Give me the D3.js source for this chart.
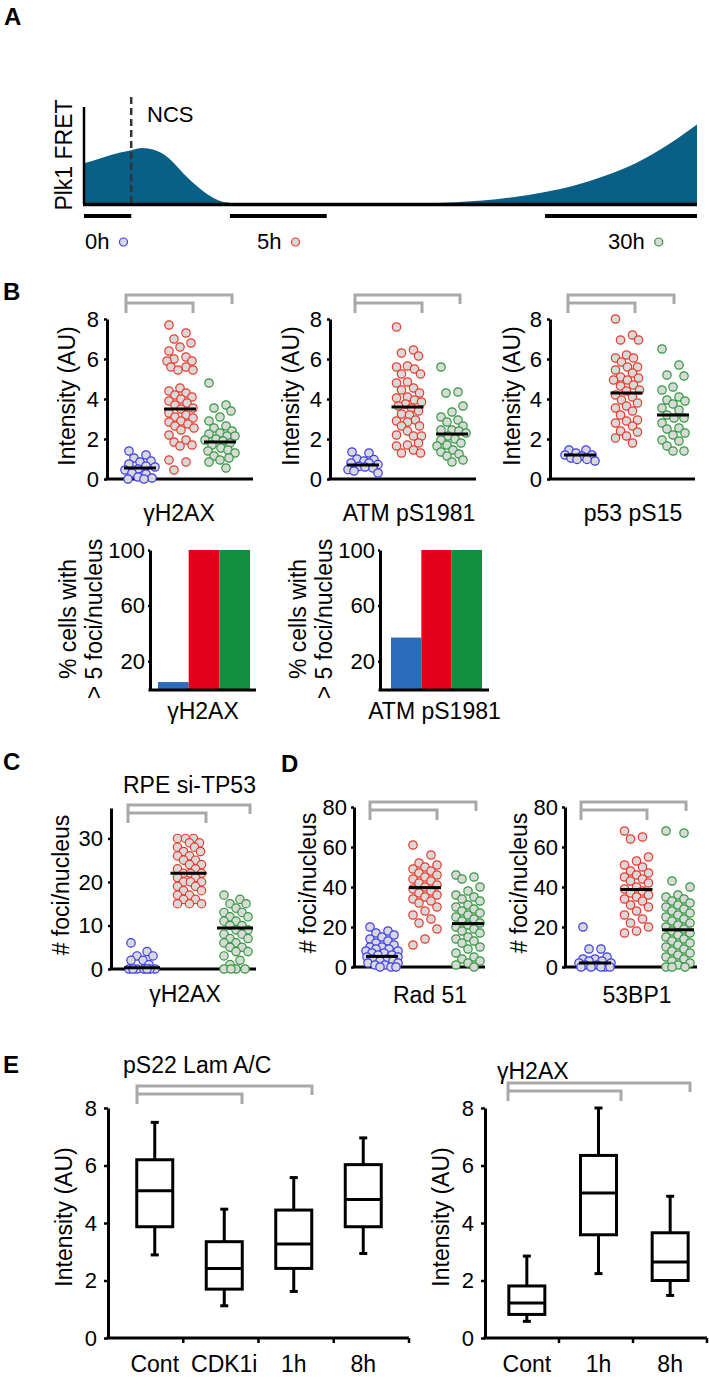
<!DOCTYPE html>
<html><head><meta charset="utf-8">
<script src="https://cdn.jsdelivr.net/npm/d3@7"></script>
<style>
body{margin:0;background:#fff}
svg text{font-family:"Liberation Sans",Arial,Helvetica,sans-serif;fill:#000}
</style></head><body>
<svg id="fig" width="709" height="1377"></svg>
<script>
// ================= DATA =================
// Panel A: Plk1 FRET trace (x: relative time 0-100, y: relative FRET 0-100)
const fretTime  = [0,2.6,5.9,7.7,9.5,11.4,13.9,16.3,18.8,21.2,24,30,40,50,55,60,65,70,75,80,85,90,95,100];
const fretLevel = [42,47,53,55.5,57.7,56,47,31,16.5,6,1,0,0,0,0.5,1.5,3.5,7,12,19,29,42,60,82];
const ncsTime = 7.7;
const windowLabels = ["0h","5h","30h"];
const windowStart = [0,23.8,75.2];
const windowEnd   = [7.7,39.6,100];

const groupNames = ["0h","5h","30h"];

// Panel B scatter: intensity (AU)
const gH2AX_0h  = [1.4,1.2,1.05,0.9,0.85,0.75,0.65,0.6,0.5,0.45,0.3,0.25,0.1,0.05,0.0,0.0];
const gH2AX_5h  = [7.7,7.3,7.0,6.8,6.6,6.4,6.1,6.0,5.9,5.9,5.6,5.6,5.45,5.45,4.55,4.4,4.3,4.2,4.1,4.0,3.9,3.8,3.7,3.55,3.5,3.3,3.2,3.1,3.05,2.9,2.85,2.75,2.65,2.55,2.45,2.2,1.95,1.85,1.7,1.65,0.95,0.85,0.45];
const gH2AX_30h = [4.8,3.7,3.55,3.4,3.1,2.9,2.65,2.55,2.4,2.3,2.25,2.15,2.15,2.0,1.95,1.9,1.8,1.7,1.55,1.45,1.4,1.3,1.15,1.05,0.95,0.85,0.55];
const gH2AX_lines = [0.55,3.5,1.85];

const atm_0h  = [1.35,1.3,1.0,0.97,0.9,0.8,0.8,0.72,0.63,0.6,0.55,0.47,0.4,0.3];
const atm_5h  = [7.6,6.45,6.3,6.15,5.65,5.6,5.5,5.25,5.25,4.85,4.8,4.55,4.45,4.3,4.1,4.05,3.95,3.85,3.75,3.65,3.55,3.4,3.25,3.2,2.95,2.9,2.85,2.65,2.65,2.4,2.2,2.15,2.15,1.8,1.7,1.65,1.45,1.3,1.3];
const atm_30h = [5.6,4.35,4.3,3.65,3.35,3.1,2.95,2.85,2.65,2.45,2.45,2.4,2.3,2.15,2.0,1.95,1.8,1.7,1.65,1.45,1.35,1.25,1.15,0.95,0.85];
const atm_lines = [0.7,3.6,2.25];

const p53_0h  = [1.45,1.45,1.3,1.2,1.2,1.15,1.05,0.98,0.9,0.98];
const p53_5h  = [8.0,7.2,6.95,6.95,6.2,6.05,6.05,5.85,5.6,5.6,5.45,5.3,5.1,5.05,4.95,4.95,4.7,4.65,4.45,4.4,4.2,4.1,3.95,3.8,3.65,3.55,3.4,3.2,2.95,2.9,2.8,2.65,2.4,2.35,2.15,2.05,1.8];
const p53_30h = [6.5,5.7,5.2,5.15,4.6,4.45,4.1,3.95,3.9,3.75,3.55,3.45,3.2,3.05,3.05,2.8,2.55,2.5,2.3,2.2,1.95,1.9,1.65,1.4,1.4];
const p53_lines = [1.2,4.3,3.2];

const intensityTicks = [0,2,4,6,8];

// Panel B bars: % cells with > 5 foci/nucleus
const fociPctH2AX = [5,100,100];
const fociPctATM  = [37,100,100];
const pctTicks = [20,60,100];

// Panel C: RPE si-TP53, gammaH2AX foci/nucleus
const siTP53_0h  = [6,4,3,3,2,2,1,0,0,0,0,0,0,0];
const siTP53_5h  = [30,30,30,29,29,28,28,27,27,26,26,25,25,24,24,23,23,22,22,22,21,21,20,20,20,19,19,18,18,17,17,16,16,15,15,15];
const siTP53_30h = [17,16,15,15,14,13,13,12,12,11,11,10,10,9,9,8,8,7,7,6,6,5,5,4,4,3,2,1,0,0,0,0];
const siTP53_lines = [0.3,22,9.4];
const fociTicksC = [0,10,20,30];

// Panel D: Rad 51 and 53BP1 foci/nucleus
const rad51_0h  = [20,18,17,16,15,14,13,12,11,10,10,9,9,8,8,7,7,6,6,5,5,4,4,3,3,2,2,1,1,0,0,0];
const rad51_5h  = [61,56,52,51,50,49,48,47,46,45,44,43,42,41,40,39,38,37,36,35,34,33,32,30,28,26,24,22,19,14,11];
const rad51_30h = [46,45,44,40,38,36,35,34,33,31,30,29,28,27,26,25,24,23,22,21,20,19,18,17,15,14,13,12,10,9,7,5,4,3,2,1,0];
const rad51_lines = [5.3,39.7,21.7];

const bp1_0h  = [20,9,9,5,4,4,3,3,2,2,1,1,0,0,0,0,0];
const bp1_5h  = [68,65,64,55,53,51,50,48,47,46,45,44,43,42,40,39,38,37,36,35,34,33,31,30,28,26,24,22,20,18,17];
const bp1_30h = [68,67,43,40,36,35,34,33,32,31,30,29,28,27,26,25,24,23,22,21,20,19,18,17,16,15,14,13,12,11,10,9,8,7,6,5,4,3,2,1,0,0,0];
const bp1_lines = [2.0,38.7,18.6];
const fociTicksD = [0,20,40,60,80];

// Panel E: box plots
const lamCats    = ["Cont","CDK1i","1h","8h"];
const lamLow     = [2.89,1.12,1.62,2.94];
const lamQ1      = [3.87,1.70,2.42,3.87];
const lamMedian  = [5.12,2.42,3.27,4.82];
const lamQ3      = [6.20,3.35,4.45,6.03];
const lamHigh    = [7.50,4.48,5.58,6.96];

const ghCats   = ["Cont","1h","8h"];
const ghLow    = [0.58,2.24,1.48];
const ghQ1     = [0.82,3.59,2.00];
const ghMedian = [1.22,5.04,2.64];
const ghQ3     = [1.81,6.35,3.66];
const ghHigh   = [2.85,8.00,4.93];

// ================= STYLE =================
const DOT_COLORS = ["#3b3bf2","#ec3b2c","#2f9a3b"];
const DOT_FILL = "#d9d9d9";
const BAR_COLORS = ["#2b6dbb","#e2001a","#0f8f3f"];
const GRAY = "#a9a9a9";
const AREA_COLOR = "#0a5f86";
const R = 4.2;
const FS = 23;   // label font size
const TS = 22;   // tick font size

const svg = d3.select("#fig");
svg.append("rect").attr("width",709).attr("height",1377).attr("fill","#fff");

function txt(x,y,s,size,anchor="start",weight="normal"){
  return svg.append("text").attr("x",x).attr("y",y).attr("font-size",size)
    .attr("text-anchor",anchor).attr("font-weight",weight).text(s);
}
function vtxt(x,y,s,size){
  return svg.append("text").attr("transform",`translate(${x},${y}) rotate(-90)`)
    .attr("text-anchor","middle").attr("font-size",size).text(s);
}
function hline(x1,x2,y,w,color="#000"){
  svg.append("line").attr("x1",x1).attr("x2",x2).attr("y1",y).attr("y2",y)
    .attr("stroke",color).attr("stroke-width",w);
}
function bracket(xs,top){
  const g=svg.append("g").attr("fill","none").attr("stroke",GRAY).attr("stroke-width",3);
  g.append("path").attr("d",`M${xs[0]},${top+18}V${top}H${xs[2]}V${top+9}`);
  g.append("path").attr("d",`M${xs[0]},${top+8}H${xs[1]}V${top+18}`);
}
function yAxis(scale,x,ticks,size,pad,font=TS){
  const g=svg.append("g").attr("transform",`translate(${x},0)`)
    .call(d3.axisLeft(scale).tickValues(ticks).tickSize(size).tickSizeOuter(0).tickPadding(pad));
  g.select(".domain").attr("stroke","#000").attr("stroke-width",3);
  g.selectAll(".tick line").attr("stroke","#000").attr("stroke-width",2.5);
  g.selectAll(".tick text").attr("font-size",font).attr("fill","#000");
  return g;
}
// deterministic beeswarm: each point prefers a spread-out slot, then resolves overlaps
function swarm(ys,r,maxHalf){
  const minD=1.7*r;
  const order=d3.range(ys.length).sort((a,b)=>ys[a]-ys[b]);
  const placed=[]; const off=new Array(ys.length);
  const base=d3.range(-maxHalf,maxHalf+1);
  order.forEach((i,rank)=>{
    const pref=(((rank*3)%5)-2)/2*maxHalf*0.75;
    const cands=base.slice().sort((a,b)=>Math.abs(a-pref)-Math.abs(b-pref));
    let best=0,bestScore=-1;
    for(const c of cands){
      let md=Infinity;
      for(const p of placed){
        const dy=p.y-ys[i]; if(Math.abs(dy)>=minD) continue;
        const d=Math.hypot(p.x-c,dy); if(d<md) md=d;
      }
      if(md>=minD){best=c;break;}
      if(md>bestScore){bestScore=md;best=c;}
    }
    off[i]=best; placed.push({x:best,y:ys[i]});
  });
  return off;
}

// ================= PANEL A =================
txt(4,25,"A",24,"start","bold");
const xA=d3.scaleLinear().domain([0,100]).range([84,697]);
const yA=d3.scaleLinear().domain([0,100]).range([204,107]);
const aData=fretTime.map((t,i)=>({t,v:fretLevel[i]}));
svg.append("path").datum(aData)
  .attr("d",d3.area().x(d=>xA(d.t)).y0(yA(0)).y1(d=>yA(d.v)).curve(d3.curveMonotoneX))
  .attr("fill",AREA_COLOR);
svg.append("line").attr("x1",xA(0)).attr("x2",xA(0)).attr("y1",yA(0)).attr("y2",yA(100))
  .attr("stroke","#000").attr("stroke-width",2.5);
hline(xA(0)-1,xA(100),yA(0)+0.5,3.5);
svg.append("line").attr("x1",xA(ncsTime)).attr("x2",xA(ncsTime)).attr("y1",97).attr("y2",yA(0))
  .attr("stroke","#333").attr("stroke-width",2.5).attr("stroke-dasharray","7,4");
txt(147,122,"NCS",22);
vtxt(72,155,"Plk1 FRET",23);
const labelStartA=[85,257,608];
windowLabels.forEach((l,i)=>{
  hline(xA(windowStart[i]),xA(windowEnd[i]),216,4);
  const t=txt(labelStartA[i],249,l,22);
  const w=t.node().getComputedTextLength();
  svg.append("circle").attr("cx",labelStartA[i]+w+14).attr("cy",242).attr("r",4)
    .attr("fill",DOT_FILL).attr("stroke",DOT_COLORS[i]).attr("stroke-width",1.2);
});

// ================= SCATTER PANELS =================
function scatterPanel(o){
  const y=d3.scaleLinear().domain(o.domain).range(o.yRange);
  const x=d3.scalePoint().domain(groupNames).range(o.xRange);
  bracket(o.bracket,o.bracketTop);
  yAxis(y,o.axisX,o.ticks,3,o.pad);
  hline(o.axisX-1.5,o.axisEnd,y(0),3);
  o.groups.forEach((vals,gi)=>{
    const cx=x(groupNames[gi]);
    const offs=swarm(vals.map(v=>y(v)),R,o.maxHalf);
    svg.append("g").selectAll("circle").data(vals).join("circle")
      .attr("cx",(d,i)=>cx+offs[i]).attr("cy",d=>y(d)).attr("r",R)
      .attr("fill",DOT_FILL).attr("stroke",DOT_COLORS[gi]).attr("stroke-width",1.2);
  });
  o.lines.forEach((m,gi)=>{const cx=x(groupNames[gi]); hline(cx-o.lineHalf,cx+o.lineHalf,y(m),3);});
  vtxt(o.labelX,o.labelY,o.yTitle,FS);
  if(o.name) txt(o.nameX,o.nameY,o.name,FS,"middle");
}

txt(3,300,"B",24,"start","bold");
const bCommon={domain:[0,8],yRange:[479,319],ticks:intensityTicks,pad:5,bracketTop:295,
  maxHalf:15,lineHalf:16,labelY:396,yTitle:"Intensity (AU)",nameY:521};
scatterPanel({...bCommon,axisX:107,axisEnd:253,xRange:[140,220],bracket:[126,193,232],
  groups:[gH2AX_0h,gH2AX_5h,gH2AX_30h],lines:gH2AX_lines,labelX:75,name:"γH2AX",nameX:179});
scatterPanel({...bCommon,axisX:330,axisEnd:476,xRange:[363,452],bracket:[355,422,460],
  groups:[atm_0h,atm_5h,atm_30h],lines:atm_lines,labelX:299,name:"ATM pS1981",nameX:409});
scatterPanel({...bCommon,axisX:550,axisEnd:695,xRange:[580,673],bracket:[568,635,674],
  groups:[p53_0h,p53_5h,p53_30h],lines:p53_lines,labelX:520,name:"p53 pS15",nameX:633});

// ================= BAR PANELS =================
function barPanel(o){
  const y=d3.scaleLinear().domain([0,100]).range([689,550]);
  const x=d3.scaleBand().domain(groupNames).range(o.barRange);
  svg.append("g").selectAll("rect").data(o.values).join("rect")
    .attr("x",(d,i)=>x(groupNames[i])).attr("width",x.bandwidth())
    .attr("y",d=>y(d)).attr("height",d=>y(0)-y(d)).attr("fill",(d,i)=>BAR_COLORS[i]);
  yAxis(y,o.axisX,pctTicks,2,3);
  hline(o.axisX-1.5,o.axisEnd,y(0)+1,3);
  vtxt(o.labelX1,619,"% cells with",FS);
  vtxt(o.labelX2,619,"> 5 foci/nucleus",FS);
  txt((o.axisX+o.axisEnd)/2,719,o.name,FS,"middle");
}
barPanel({values:fociPctH2AX,barRange:[158,250],axisX:150,axisEnd:256,labelX1:76,labelX2:102,name:"γH2AX"});
barPanel({values:fociPctATM,barRange:[391,482],axisX:380,axisEnd:489,labelX1:306,labelX2:332,name:"ATM pS1981"});

// ================= PANEL C =================
txt(3,770,"C",24,"start","bold");
txt(123,793,"RPE si-TP53",FS);
scatterPanel({domain:[0,37],yRange:[969,808],ticks:fociTicksC,pad:5,axisX:111,axisEnd:256,
  xRange:[142,235],bracket:[128,206,250],bracketTop:805,maxHalf:14,lineHalf:18,
  groups:[siTP53_0h,siTP53_5h,siTP53_30h],lines:siTP53_lines,labelX:69,labelY:885,
  yTitle:"# foci/nucleus",name:"γH2AX",nameX:185,nameY:1002});

// ================= PANEL D =================
txt(281,772,"D",24,"start","bold");
const dCommon={domain:[0,80],yRange:[967,807],ticks:fociTicksD,pad:4,bracketTop:802,
  maxHalf:16,lineHalf:16,labelY:883,yTitle:"# foci/nucleus",nameY:1003};
scatterPanel({...dCommon,axisX:354,axisEnd:485,xRange:[382,468],bracket:[370,437,476],
  groups:[rad51_0h,rad51_5h,rad51_30h],lines:rad51_lines,labelX:316,name:"Rad 51",nameX:430});
scatterPanel({...dCommon,axisX:565,axisEnd:697,xRange:[595,678],bracket:[581,647,686],
  groups:[bp1_0h,bp1_5h,bp1_30h],lines:bp1_lines,labelX:527,name:"53BP1",nameX:637});

// ================= PANEL E =================
function boxPanel(o){
  const y=d3.scaleLinear().domain([0,8]).range([1338,1108]);
  const xb=d3.scaleBand().domain(o.cats).range(o.boxRange);
  const xt=d3.scaleBand().domain(o.cats).range([o.axisX,o.axisEnd]);
  bracket(o.bracket,o.bracketTop);
  yAxis(y,o.axisX,intensityTicks,4,7);
  hline(o.axisX-1.5,o.axisEnd,y(0),3);
  o.cats.forEach(c=>{
    const tx=xt(c)+xt.bandwidth();
    svg.append("line").attr("x1",tx).attr("x2",tx).attr("y1",y(0)).attr("y2",y(0)+5)
      .attr("stroke","#000").attr("stroke-width",2.5);
  });
  const g=svg.append("g").attr("stroke","#000").attr("stroke-width",3).attr("fill","none");
  o.cats.forEach((c,i)=>{
    const cx=xb(c)+xb.bandwidth()/2, hw=18;
    g.append("line").attr("x1",cx).attr("x2",cx).attr("y1",y(o.q3[i])).attr("y2",y(o.high[i]));
    g.append("line").attr("x1",cx).attr("x2",cx).attr("y1",y(o.q1[i])).attr("y2",y(o.low[i]));
    g.append("line").attr("x1",cx-4).attr("x2",cx+4).attr("y1",y(o.high[i])).attr("y2",y(o.high[i]));
    g.append("line").attr("x1",cx-4).attr("x2",cx+4).attr("y1",y(o.low[i])).attr("y2",y(o.low[i]));
    g.append("rect").attr("x",cx-hw).attr("width",2*hw).attr("y",y(o.q3[i]))
      .attr("height",y(o.q1[i])-y(o.q3[i])).attr("fill","#fff");
    g.append("line").attr("x1",cx-hw).attr("x2",cx+hw).attr("y1",y(o.med[i])).attr("y2",y(o.med[i]));
    txt(cx,1372,c,FS,"middle");
  });
  vtxt(o.labelX,1217,"Intensity (AU)",FS);
  txt(o.titleX,o.titleY,o.title,FS);
}
txt(3,1073,"E",24,"start","bold");
boxPanel({cats:lamCats,low:lamLow,q1:lamQ1,med:lamMedian,q3:lamQ3,high:lamHigh,
  boxRange:[120,398],axisX:108,axisEnd:409,bracket:[137,242,312],bracketTop:1086,
  labelX:72,title:"pS22 Lam A/C",titleX:123,titleY:1073});
boxPanel({cats:ghCats,low:ghLow,q1:ghQ1,med:ghMedian,q3:ghQ3,high:ghHigh,
  boxRange:[491,706],axisX:485,axisEnd:707,bracket:[508,621,690],bracketTop:1083,
  labelX:449,title:"γH2AX",titleX:497,titleY:1079});
</script>
</body></html>
